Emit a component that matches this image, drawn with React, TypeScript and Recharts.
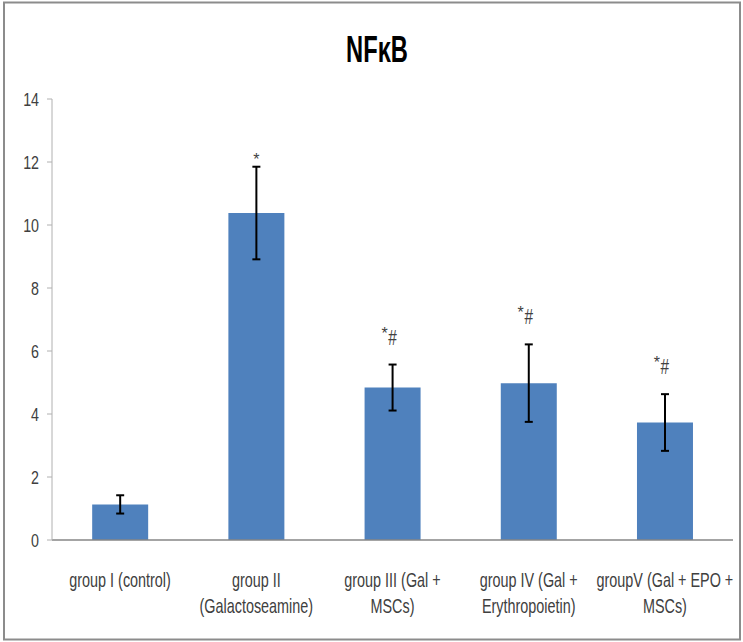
import React from 'react';
import { ComposedChart, Bar, XAxis, YAxis, ErrorBar, Line, LabelList } from 'recharts';

const categories = [
  'group I (control)',
  'group II\n(Galactoseamine)',
  'group III (Gal +\nMSCs)',
  'group IV (Gal +\nErythropoietin)',
  'groupV (Gal + EPO +\nMSCs)',
];
const means = [1.13, 10.38, 4.84, 4.98, 3.73];
const errors = [0.29, 1.47, 0.73, 1.23, 0.9];
const marks = ['', '*', '*#', '*#', '*#'];
const yTicks = [0, 2, 4, 6, 8, 10, 12, 14];
const title = 'NFκB';

const data = categories.map((c, i) => ({
  name: c,
  value: means[i],
  err: errors[i],
  top: means[i] + errors[i],
  mark: marks[i],
}));

const FONT = '"Liberation Sans", Arial, sans-serif';
const TEXT = '#404040';

const XTick = (props: any) => {
  const { x, y, payload } = props;
  const lines = String(payload.value).split('\n');
  return (
    <g transform={`translate(${x},${y})`}>
      <text transform="scale(0.72,1)" textAnchor="middle" fontFamily={FONT} fontSize={20} fill={TEXT}>
        {lines.map((l, i) => (
          <tspan key={i} x={0} y={47 + i * 26}>{l}</tspan>
        ))}
      </text>
    </g>
  );
};

const YTick = (props: any) => {
  const { x, y, payload } = props;
  return (
    <g transform={`translate(${x},${y})`}>
      <text transform="scale(0.75,1)" textAnchor="end" dy="0.36em" fontFamily={FONT} fontSize={19} fill={TEXT}>
        {payload.value}
      </text>
    </g>
  );
};

const renderMark = (props: any) => {
  const { x, y, value } = props;
  if (!value) return null;
  if (value === '*') {
    return (
      <text x={x} y={y - 2} textAnchor="middle" fontFamily={FONT} fontSize={16} fill={TEXT}>*</text>
    );
  }
  return (
    <g>
      <text x={x - 8} y={y - 26} textAnchor="middle" fontFamily={FONT} fontSize={16} fill={TEXT}>*</text>
      <g transform={`translate(${x},${y - 20})`}>
        <text transform="scale(0.7,1)" textAnchor="middle" fontFamily={FONT} fontSize={22} fill={TEXT}>#</text>
      </g>
    </g>
  );
};

export default function App() {
  return (
    <div style={{ position: 'absolute', left: 0, top: 0, width: 743, height: 642, background: '#fff' }}>
      <ComposedChart
        width={743}
        height={642}
        data={data}
        margin={{ top: 99, right: 10, bottom: 42, left: 0 }}
        barCategoryGap="29.5%"
      >
        <XAxis
          dataKey="name"
          interval={0}
          tickLine={false}
          tickSize={0}
          tickMargin={0}
          height={60}
          axisLine={{ stroke: '#868686', strokeWidth: 1.5 }}
          tick={<XTick />}
        />
        <YAxis
          width={52}
          domain={[0, 14]}
          ticks={yTicks}
          interval={0}
          tickSize={5}
          tickMargin={8}
          axisLine={{ stroke: '#b0b0b0', strokeWidth: 1 }}
          tickLine={{ stroke: '#b0b0b0' }}
          tick={<YTick />}
        />
        <Bar dataKey="value" fill="#4F81BD" isAnimationActive={false}>
          <ErrorBar dataKey="err" width={4} stroke="#000" strokeWidth={2} direction="y" />
        </Bar>
        <Line
          dataKey="top"
          stroke="none"
          dot={false}
          activeDot={false}
          legendType="none"
          isAnimationActive={false}
        >
          <LabelList dataKey="mark" content={renderMark} />
        </Line>
      </ComposedChart>
      <svg width={743} height={642} style={{ position: 'absolute', left: 0, top: 0, pointerEvents: 'none' }}>
        <rect x={4} y={2.5} width={736} height={637} fill="none" stroke="#8c8c8c" strokeWidth={2} />
        <g transform="translate(377,62)">
          <text transform="scale(0.64,1)" textAnchor="middle" fontFamily={FONT} fontWeight="bold" fontSize={37} fill="#000">
            {title}
          </text>
        </g>
      </svg>
    </div>
  );
}
